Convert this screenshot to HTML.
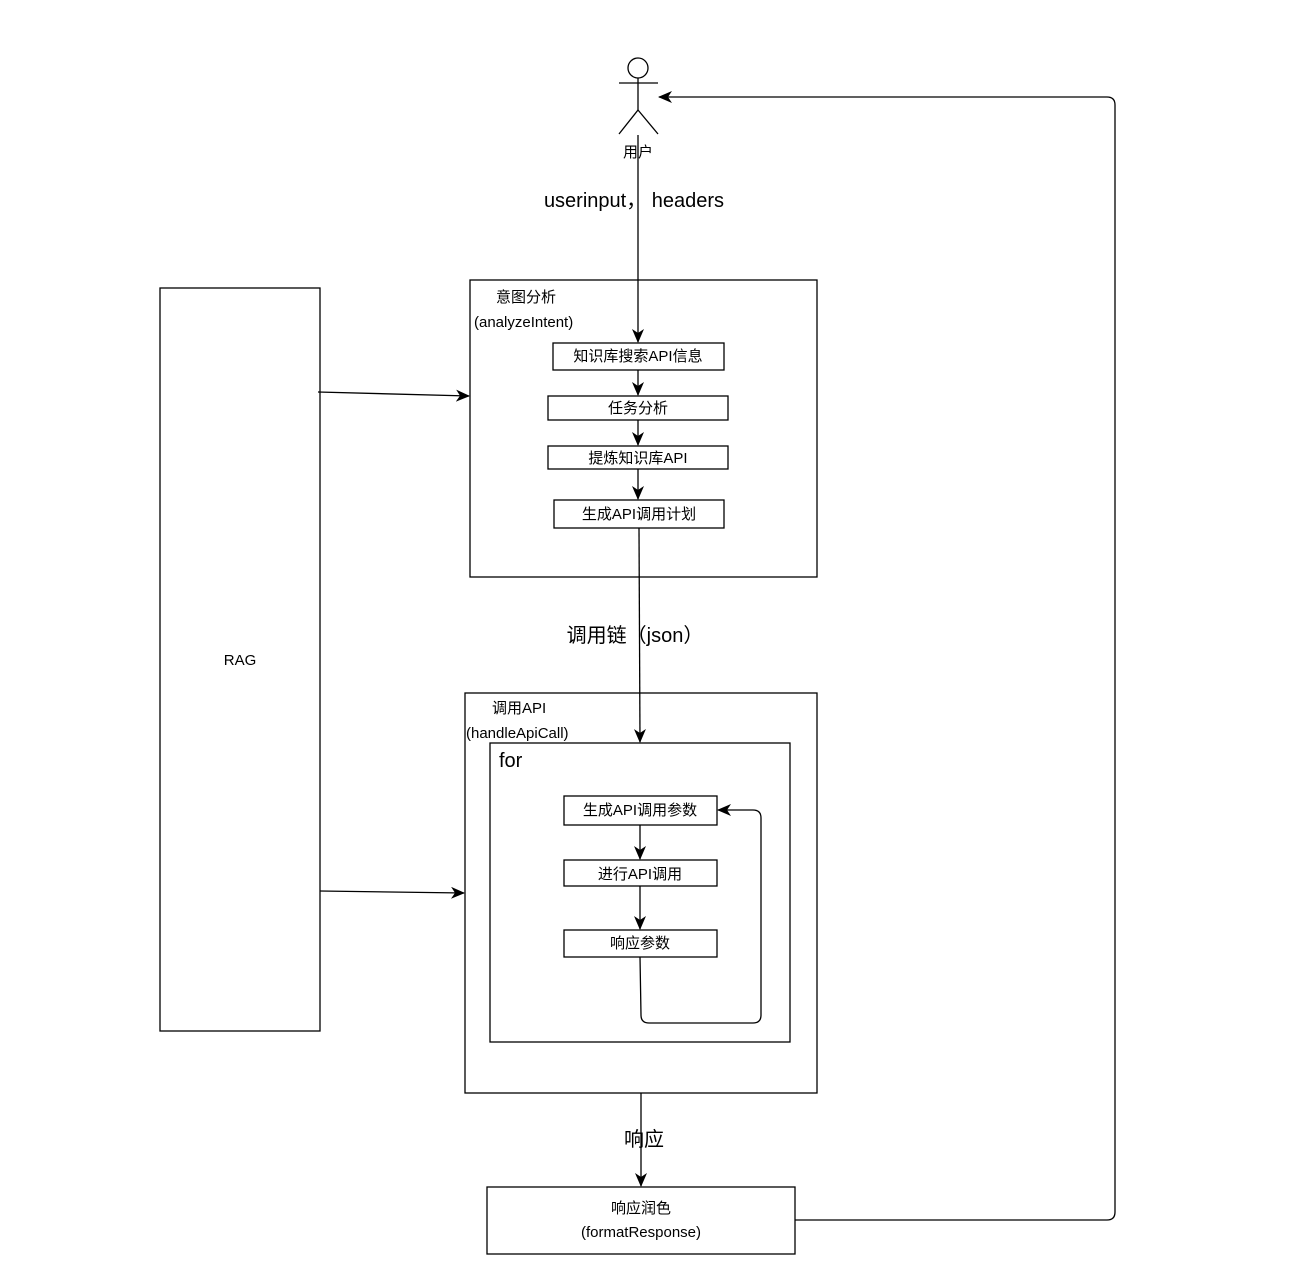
<!DOCTYPE html>
<html><head><meta charset="utf-8"><style>
html,body{margin:0;padding:0;background:#fff;}
svg{display:block;}
text{font-family:"Liberation Sans","Noto Sans CJK SC",sans-serif;fill:#000;}
</style></head><body>
<svg width="1308" height="1285" viewBox="0 0 1308 1285" xmlns="http://www.w3.org/2000/svg">
<defs>
<marker id="a" viewBox="0 0 14 12" refX="13" refY="6" markerWidth="14" markerHeight="12" markerUnits="userSpaceOnUse" orient="auto">
<path d="M0,0 L14,6 L0,12 L4,6 Z" fill="#000"/>
</marker>
</defs>
<g fill="none" stroke="#000" stroke-width="1.3">
<circle cx="638" cy="68" r="10" fill="#fff"/>
<line x1="638" y1="78" x2="638" y2="110"/>
<line x1="619" y1="83" x2="658" y2="83"/>
<line x1="638" y1="110" x2="619" y2="134"/>
<line x1="638" y1="110" x2="658" y2="134"/>
<rect x="470" y="280" width="347" height="297"/>
<rect x="553" y="343" width="171" height="27"/>
<rect x="548" y="396" width="180" height="24"/>
<rect x="548" y="446" width="180" height="23"/>
<rect x="554" y="500" width="170" height="28"/>
<rect x="160" y="288" width="160" height="743"/>
<rect x="465" y="693" width="352" height="400"/>
<rect x="490" y="743" width="300" height="299"/>
<rect x="564" y="796" width="153" height="29"/>
<rect x="564" y="860" width="153" height="26"/>
<rect x="564" y="930" width="153" height="27"/>
<rect x="487" y="1187" width="308" height="67"/>
<line x1="638" y1="135" x2="638" y2="342" marker-end="url(#a)"/>
<line x1="638" y1="370" x2="638" y2="395" marker-end="url(#a)"/>
<line x1="638" y1="420" x2="638" y2="445" marker-end="url(#a)"/>
<line x1="638" y1="469" x2="638" y2="499" marker-end="url(#a)"/>
<line x1="639" y1="528" x2="640" y2="742" marker-end="url(#a)"/>
<line x1="640" y1="825" x2="640" y2="859" marker-end="url(#a)"/>
<line x1="640" y1="886" x2="640" y2="929" marker-end="url(#a)"/>
<path d="M640,957 L641,1015 Q641,1023 649,1023 L753,1023 Q761,1023 761,1015 L761,818 Q761,810 753,810 L718,810" marker-end="url(#a)"/>
<line x1="318" y1="392" x2="469" y2="396" marker-end="url(#a)"/>
<line x1="320" y1="891" x2="464" y2="893" marker-end="url(#a)"/>
<line x1="641" y1="1093" x2="641" y2="1186" marker-end="url(#a)"/>
<path d="M795,1220 L1107,1220 Q1115,1220 1115,1212 L1115,105 Q1115,97 1107,97 L659,97" marker-end="url(#a)"/>
</g>
<text x="638" y="157" font-size="15" text-anchor="middle">用户</text>
<text x="634" y="207" font-size="20" text-anchor="middle">userinput， headers</text>
<text x="496" y="302" font-size="15">意图分析</text>
<text x="474" y="327" font-size="15">(analyzeIntent)</text>
<text x="638" y="361" font-size="15" text-anchor="middle">知识库搜索API信息</text>
<text x="638" y="413" font-size="15" text-anchor="middle">任务分析</text>
<text x="638" y="463" font-size="15" text-anchor="middle">提炼知识库API</text>
<text x="639" y="519" font-size="15" text-anchor="middle">生成API调用计划</text>
<text x="240" y="665" font-size="15" text-anchor="middle">RAG</text>
<text x="635" y="642" font-size="20" text-anchor="middle">调用链（json）</text>
<text x="492" y="713" font-size="15">调用API</text>
<text x="466" y="738" font-size="15">(handleApiCall)</text>
<text x="499" y="767" font-size="20">for</text>
<text x="640" y="815" font-size="15" text-anchor="middle">生成API调用参数</text>
<text x="640" y="879" font-size="15" text-anchor="middle">进行API调用</text>
<text x="640" y="948" font-size="15" text-anchor="middle">响应参数</text>
<text x="644" y="1146" font-size="20" text-anchor="middle">响应</text>
<text x="641" y="1213" font-size="15" text-anchor="middle">响应润色</text>
<text x="641" y="1237" font-size="15" text-anchor="middle">(formatResponse)</text>
</svg>
</body></html>
